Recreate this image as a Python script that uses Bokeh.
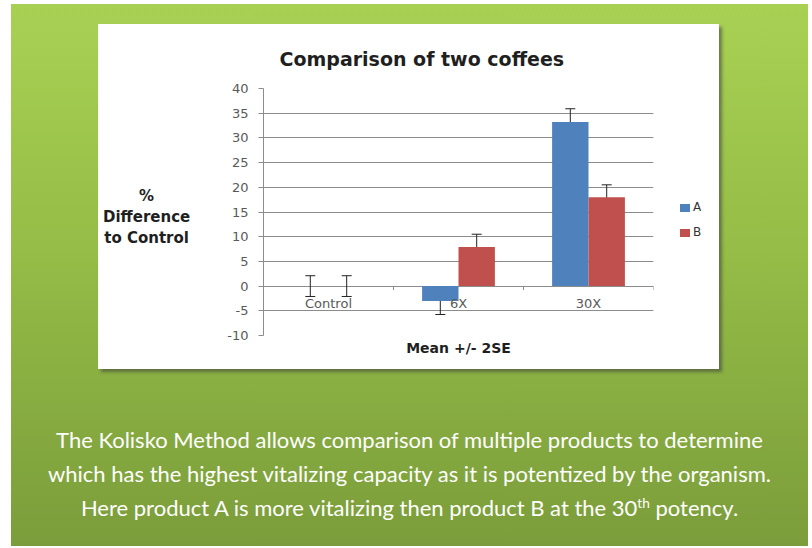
from bokeh.plotting import figure
from bokeh.layouts import column, row
from bokeh.models import (ColumnDataSource, FactorRange, Range1d, FixedTicker,
                          Whisker, TeeHead, Div, Title)
from bokeh.transform import dodge
from bokeh.embed import file_html
from bokeh.resources import INLINE

# ---------------- data ----------------
categories = ["Control", "6X", "30X"]
series_names = ["A", "B"]
mean_a = [0.0, -3.0, 33.2]
mean_b = [0.0, 7.9, 18.0]
err_a = [2.1, 2.75, 2.7]     # 2 SE
err_b = [2.1, 2.6, 2.5]
y_ticks = [-10, -5, 0, 5, 10, 15, 20, 25, 30, 35, 40]
y_tick_labels = {t: str(t) for t in y_ticks}
title_text = "Comparison  of two coffees"
y_label_lines = ["%", "Difference", "to Control"]
x_label_text = "Mean +/- 2SE"
caption_html = ("The Kolisko Method allows comparison of multiple products to determine<br>"
                "which has the highest vitalizing capacity as it is potentized by the organism.<br>"
                "Here product A is more vitalizing then product B at the 30"
                "<sup style='line-height:0;font-size:0.62em'>th</sup> potency.")

# ---------------- styles ----------------
BLUE = "#4f81bd"
RED = "#c0504d"
SERIES_COLORS = [BLUE, RED]
GRID = "#8c8c8c"
TICK_TXT = "#595959"
FONT = "DejaVu Sans"

src = ColumnDataSource(dict(
    cat=categories, A=mean_a, B=mean_b,
    a_up=[m + e for m, e in zip(mean_a, err_a)],
    a_lo=[m - e for m, e in zip(mean_a, err_a)],
    b_up=[m + e for m, e in zip(mean_b, err_b)],
    b_lo=[m - e for m, e in zip(mean_b, err_b)],
))

p = figure(width=439, height=345, output_backend="svg", toolbar_location=None,
           x_range=FactorRange(*categories), y_range=Range1d(y_ticks[0], y_ticks[-1]),
           min_border_left=38, min_border_right=10, min_border_top=64,
           min_border_bottom=34, outline_line_color=None,
           background_fill_color="white", border_fill_color="white")

p.title = Title(text=title_text, align="left", offset=16, text_font=FONT,
                text_font_size="19px", text_font_style="bold", text_color="#1f1f1f",
                standoff=38)
p.add_layout(Title(text=x_label_text, align="center", text_font=FONT, text_font_size="14px",
                   text_font_style="bold", text_color="#1f1f1f", standoff=4), "below")

# ---------------- bars ----------------
ra = p.vbar(x=dodge("cat", -0.14, range=p.x_range), top="A", width=0.28, source=src,
            fill_color=BLUE, line_color=None)
rb = p.vbar(x=dodge("cat", 0.14, range=p.x_range), top="B", width=0.28, source=src,
            fill_color=RED, line_color=None)

# category boundary tick marks below the zero line
p.segment(x0=dodge("cat", 0.5, range=p.x_range), x1=dodge("cat", 0.5, range=p.x_range),
          y0=0, y1=-0.8, source=src, line_color=GRID, line_width=1)

# category labels hanging just below the zero line
p.text(x="cat", y=0, text="cat", source=src, text_align="center", text_baseline="middle",
       y_offset=17, text_font_size="13px", text_color=TICK_TXT, text_font={"value": FONT})

for base_off, up, lo in ((-0.14, "a_up", "a_lo"), (0.14, "b_up", "b_lo")):
    p.add_layout(Whisker(source=src, base=dodge("cat", base_off, range=p.x_range),
                         upper=up, lower=lo, line_color="#222222", line_width=1,
                         upper_head=TeeHead(size=10, line_color="#222222", line_width=1),
                         lower_head=TeeHead(size=10, line_color="#222222", line_width=1)))

# ---------------- axes ----------------
yax = p.yaxis[0]
yax.ticker = FixedTicker(ticks=y_ticks)
yax.major_label_overrides = y_tick_labels
yax.axis_line_color = GRID
yax.major_tick_line_color = GRID
yax.major_tick_out = 5
yax.major_tick_in = 0
yax.minor_tick_line_color = None
yax.major_label_standoff = 10
yax.major_label_text_font = FONT
yax.major_label_text_font_size = "13px"
yax.major_label_text_color = TICK_TXT

p.xaxis.visible = False
p.xgrid.visible = False
p.ygrid.ticker = FixedTicker(ticks=y_ticks)
p.ygrid.grid_line_color = GRID
p.ygrid.grid_line_width = 1

# ---------------- y label (centered lines, left of the axis) ----------------
ylab = Div(text=("<div style='margin-top:157px;text-align:center;font-family:DejaVu Sans;"
                 "font-weight:bold;font-size:15px;line-height:21px;color:#1f1f1f'>"
                 + "<br>".join(y_label_lines) + "</div>"),
           width=116, height=345)

# ---------------- legend (right of the plot) ----------------
legend_rows = "".join(
    "<div style='height:25px;line-height:25px;white-space:nowrap'>"
    f"<span style='display:inline-block;width:10px;height:8px;background:{c};"
    "margin-right:3px;vertical-align:middle'></span>" + name + "</div>"
    for name, c in zip(series_names, SERIES_COLORS))
leg = Div(text=("<div style='margin-top:166px;margin-left:12px;font-family:DejaVu Sans;"
                "font-size:12px;color:#333333'>" + legend_rows + "</div>"),
          width=66, height=345)

chart_box = row(ylab, p, leg, width=621, height=345, margin=(20, 0, 0, 87),
                styles={"background": "white",
                        "box-shadow": "3px 3px 3px rgba(60,60,60,0.55)"})

# ---------------- caption ----------------
caption = Div(text=caption_html, width=797, height=120, margin=(54, 0, 0, 0),
              styles={"text-align": "center", "color": "white", "font-family": "Lato",
                      "font-size": "22px", "line-height": "34px"})

root = column(chart_box, caption, width=797, height=542, margin=(4, 0, 0, 11),
              styles={"background": "linear-gradient(180deg, #a8d154 0%, #95bd47 45%, #7b9d3b 100%)"})

open("out.html", "w").write(file_html(root, INLINE))
